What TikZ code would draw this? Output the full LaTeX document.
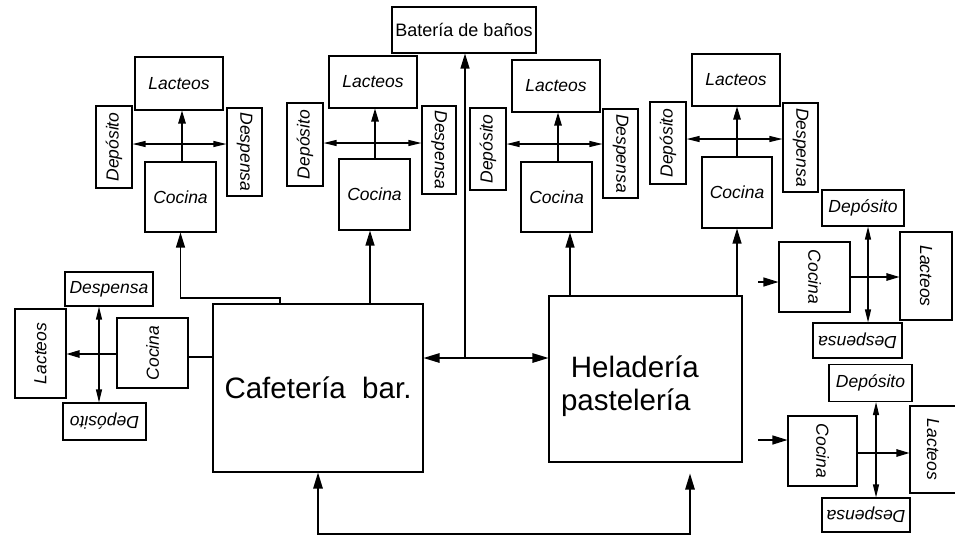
\documentclass[tikz,border=0pt]{standalone}
\usepackage{fontspec}
\setmainfont{Liberation Sans}
\usetikzlibrary{arrows.meta,calc}
\tikzset{
  room/.style={draw,line width=1.1pt,inner sep=0pt,font=\fontsize{17.5}{20}\selectfont\itshape},
  hall/.style={draw,line width=1.1pt,inner sep=0pt,font=\fontsize{29.5}{33}\selectfont},
  arr/.style={-{Triangle[length=15pt,width=9pt]},line width=1.2pt},
  tip/.style={-{Triangle[length=13pt,width=7.5pt]},line width=1.2pt},
  pair/.style={{Triangle[length=13pt,width=6pt]}-{Triangle[length=13pt,width=6pt]},line width=1.2pt},
  twin/.style={{Triangle[length=16pt,width=9.5pt]}-{Triangle[length=16pt,width=9.5pt]},line width=1.2pt},
}
\newcommand{\rotup}[1]{\rotatebox{90}{#1}}
\newcommand{\rotdown}[1]{\rotatebox{-90}{#1}}
\newcommand{\rotflip}[1]{\rotatebox{180}{#1}}

\begin{document}
\begin{tikzpicture}[x=1pt,y=-1pt]
  \useasboundingbox (0,0) rectangle (955,536);
  % main rooms
  \node[hall,minimum width=210,minimum height=168] (caf) at (318,388) {Cafetería\ \ bar.};
  \node[hall,minimum width=193,minimum height=166,text width=169,align=left] (hel) at (645.5,379)
    {\rule{0pt}{37pt}\ Heladería\\pastelería};
  \node[room,font=\fontsize{18}{21}\selectfont,minimum width=144,minimum height=46] (bat) at (464,30) {Batería de baños};

  % kitchen 1
  \node[room,minimum width=88,minimum height=53] (lac1) at (179,83.5) {Lacteos};
  \node[room,minimum width=36,minimum height=82] (dep1) at (114,147) {\rotup{Depósito}};
  \node[room,minimum width=35,minimum height=88] (des1) at (244.5,152) {\rotdown{Despensa}};
  \node[room,minimum width=71,minimum height=70] (coc1) at (180.5,197) {Cocina};
  % kitchen 2
  \node[room,minimum width=88,minimum height=52] (lac2) at (373,82) {Lacteos};
  \node[room,minimum width=36,minimum height=83] (dep2) at (305,144.5) {\rotup{Depósito}};
  \node[room,minimum width=34,minimum height=88] (des2) at (439,150) {\rotdown{Despensa}};
  \node[room,minimum width=71,minimum height=71] (coc2) at (374.5,194.5) {Cocina};
  % kitchen 3
  \node[room,minimum width=88,minimum height=52] (lac3) at (556,86) {Lacteos};
  \node[room,minimum width=36,minimum height=82] (dep3) at (488,149) {\rotup{Depósito}};
  \node[room,minimum width=35,minimum height=89] (des3) at (620.5,153.5) {\rotdown{Despensa}};
  \node[room,minimum width=71,minimum height=70] (coc3) at (556.5,197) {Cocina};
  % kitchen 4
  \node[room,minimum width=88,minimum height=52] (lac4) at (736,80) {Lacteos};
  \node[room,minimum width=36,minimum height=82] (dep4) at (668,143) {\rotup{Depósito}};
  \node[room,minimum width=35,minimum height=89] (des4) at (800.5,147.5) {\rotdown{Despensa}};
  \node[room,minimum width=70,minimum height=71] (coc4) at (737,192.5) {Cocina};
  % kitchen 5
  \node[room,minimum width=82,minimum height=36] (dep5) at (863,208) {Depósito};
  \node[room,minimum width=71,minimum height=70] (coc5) at (814.5,277) {\rotdown{Cocina}};
  \node[room,minimum width=52,minimum height=88] (lac5) at (926,276) {\rotdown{Lacteos}};
  \node[room,minimum width=89,minimum height=35] (des5) at (857.5,340.5) {\rotflip{Despensa}};
  % kitchen 6
  \node[room,minimum width=83,minimum height=37] (dep6) at (870.5,383) {Depósito};
  \node[room,minimum width=69,minimum height=70] (coc6) at (822.5,451) {\rotdown{Cocina}};
  \node[room,minimum width=46,minimum height=87] (lac6) at (933,449.5) {\rotdown{Lacteos}};
  \node[room,minimum width=88,minimum height=34] (des6) at (866,515) {\rotflip{Despensa}};
  % kitchen 0 (left)
  \node[room,minimum width=88,minimum height=34] (des0) at (109,289) {Despensa};
  \node[room,minimum width=51,minimum height=89] (lac0) at (40.5,353.5) {\rotup{Lacteos}};
  \node[room,minimum width=71,minimum height=70] (coc0) at (152.5,353) {\rotup{Cocina}};
  \node[room,minimum width=83,minimum height=37] (dep0) at (104.5,421.5) {\rotflip{Depósito}};

  % crossings inside each kitchen
  \coordinate (r0) at (99,354);
  \coordinate (r1) at (182,144);
  \coordinate (r2) at (375,143);
  \coordinate (r3) at (558,144);
  \coordinate (r4) at (737,139);
  \coordinate (r5) at (868,277);
  \coordinate (r6) at (876,453);
  \draw[pair] (dep1.east |- r1) -- (des1.west |- r1);
  \draw[tip] (coc1.north -| r1) -- (lac1.south -| r1);
  \draw[pair] (dep2.east |- r2) -- (des2.west |- r2);
  \draw[tip] (coc2.north -| r2) -- (lac2.south -| r2);
  \draw[pair] (dep3.east |- r3) -- (des3.west |- r3);
  \draw[tip] (coc3.north -| r3) -- (lac3.south -| r3);
  \draw[pair] (dep4.east |- r4) -- (des4.west |- r4);
  \draw[tip] (coc4.north -| r4) -- (lac4.south -| r4);
  \draw[pair] (dep5.south -| r5) -- (des5.north -| r5);
  \draw[tip] (coc5.east |- r5) -- (lac5.west |- r5);
  \draw[pair] (dep6.south -| r6) -- (des6.north -| r6);
  \draw[tip] (coc6.east |- r6) -- (lac6.west |- r6);
  \draw[pair] (des0.south -| r0) -- (dep0.north -| r0);
  \draw[tip] (coc0.west |- r0) -- (lac0.east |- r0);

  % feeds to the kitchens
  \coordinate (f1) at (280,298);
  \coordinate (f2) at (370,0);
  \coordinate (f3) at (570,0);
  \coordinate (f4) at (737,0);
  \coordinate (in5) at (758,282);
  \coordinate (in6) at (758,440);
  \coordinate (l0) at (0,357);
  \draw[arr] (caf.north -| f1) -- (f1) -| (coc1.south);
  \draw[arr] (caf.north -| f2) -- (coc2.south -| f2);
  \draw[arr] (hel.north -| f3) -- (coc3.south -| f3);
  \draw[arr] (hel.north -| f4) -- (coc4.south -| f4);
  \draw[arr] (in5) -- (coc5.west |- in5);
  \draw[arr] (in6) -- (coc6.west |- in6);
  \draw[line width=1.2pt] (coc0.east |- l0) -- (caf.west |- l0);

  % between the two rooms and the baths
  \coordinate (jn) at (465,358);
  \coordinate (lp) at (690,534);
  \draw[twin] (caf.east |- jn) -- (hel.west |- jn);
  \draw[arr] (jn) -- (bat.south -| jn);
  \draw[twin] (caf.south) -- (caf.south |- lp) -- (lp) -- ($(hel.south -| lp)+(0,11)$);
\end{tikzpicture}
\end{document}
